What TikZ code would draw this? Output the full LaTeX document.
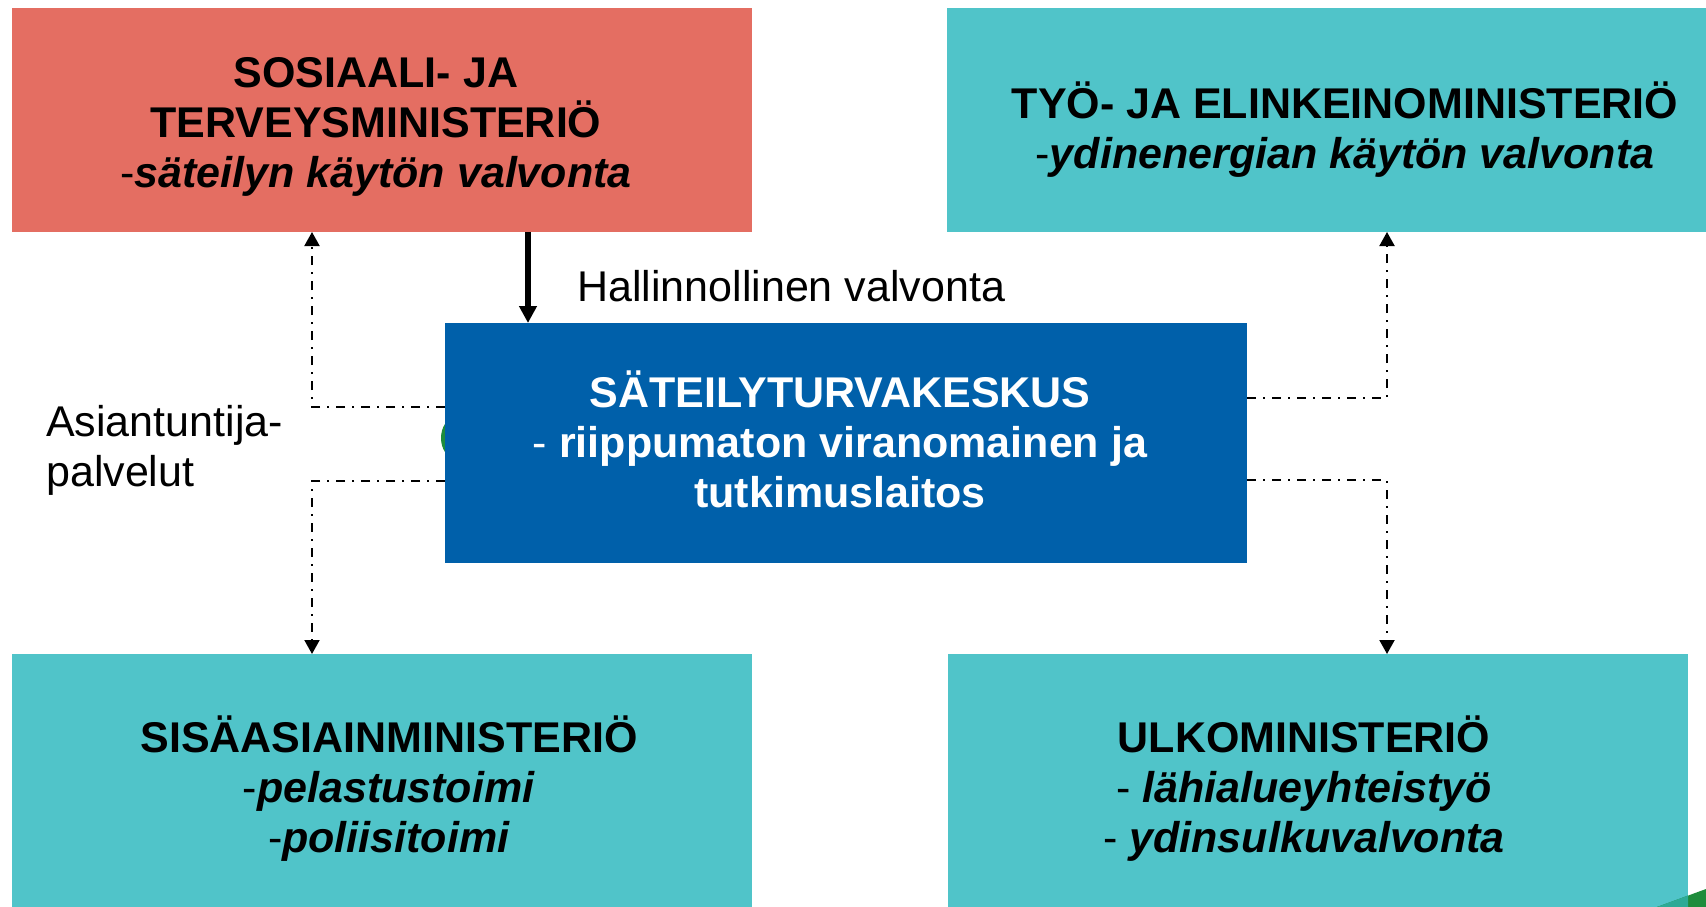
\documentclass[tikz,border=0pt]{standalone}
\usepackage{fontspec}
\setmainfont{Liberation Sans}
\usetikzlibrary{arrows.meta}
\definecolor{stmred}{RGB}{228,110,98}
\definecolor{minteal}{RGB}{80,196,201}
\definecolor{stukblue}{RGB}{0,96,170}
\definecolor{logogreen}{RGB}{30,140,60}
\definecolor{darkteal}{RGB}{45,170,150}

\begin{document}
\begin{tikzpicture}[x=1pt,y=-1pt,
        box/.style={anchor=north west,inner sep=0pt,outer sep=0pt},
        txt/.style={align=center,inner sep=0pt,font=\fontsize{43}{50}\selectfont\bfseries},
        plain/.style={inner sep=0pt,font=\fontsize{43}{50}\selectfont},
        dashdot/.style={line width=2pt,dash pattern=on 9pt off 7pt on 2pt off 7pt,-{Triangle[width=15pt,length=14pt]}}]
        \useasboundingbox (0,0) rectangle (1706,907);
        \fill[white] (0,0) rectangle (1706,907);
        \fill[logogreen] (455,438) ellipse (14pt and 20pt);
        \node[box,fill=stmred,minimum width=740pt,minimum height=224pt] (stm) at (12,8) {};
        \node[box,fill=minteal,minimum width=759pt,minimum height=224pt] (tem) at (947,8) {};
        \node[box,fill=stukblue,minimum width=802pt,minimum height=240pt] (stuk) at (445,323) {};
        \node[box,fill=minteal,minimum width=740pt,minimum height=260pt] (sm) at (12,654) {};
        \node[box,fill=minteal,minimum width=740pt,minimum height=260pt] (um) at (948,654) {};
        \fill[logogreen] (1657,907) -- (1706,889) -- (1706,907) -- cycle;
        \fill[darkteal] (1657,907) -- (1688,895.6) -- (1688,907) -- cycle;
        \node[txt] (stmtxt) at (376,127) {SOSIAALI- JA\\TERVEYSMINISTERIÖ\\{\mdseries -}\textit{säteilyn käytön valvonta}};
        \node[txt] (temtxt) at (1345,130) {TYÖ- JA ELINKEINOMINISTERIÖ\\{\mdseries -}\textit{ydinenergian käytön valvonta}};
        \node[txt,white] (stuktxt) at (840,439) {SÄTEILYTURVAKESKUS\\{\mdseries -} riippumaton viranomainen ja\\tutkimuslaitos};
        \node[txt] (smtxt) at (389,789) {SISÄASIAINMINISTERIÖ\\{\mdseries -}\textit{pelastustoimi}\\{\mdseries -}\textit{poliisitoimi}};
        \node[txt] (umtxt) at (1304,789) {ULKOMINISTERIÖ\\{\mdseries -} \textit{lähialueyhteistyö}\\{\mdseries -} \textit{ydinsulkuvalvonta}};
        \node[plain,anchor=west] (hv) at (577,286) {Hallinnollinen valvonta};
        \node[plain,anchor=west,align=left] (ap) at (46,450) {Asiantuntija-\\palvelut};
        \draw[line width=5.5pt,-{Triangle[width=17pt,length=17pt]}] ([xshift=516pt]stm.south west) -- ([xshift=83pt]stuk.north west);
        \draw[dashdot] ([yshift=36pt]stuk.west) -| ([xshift=300pt]stm.south west);
        \draw[dashdot] ([yshift=-38pt]stuk.west) -| ([xshift=300pt]sm.north west);
        \draw[dashdot] ([yshift=45pt]stuk.east) -| ([xshift=440pt]tem.south west);
        \draw[dashdot] ([yshift=-37pt]stuk.east) -| ([xshift=439pt]um.north west);
\end{tikzpicture}
\end{document}
